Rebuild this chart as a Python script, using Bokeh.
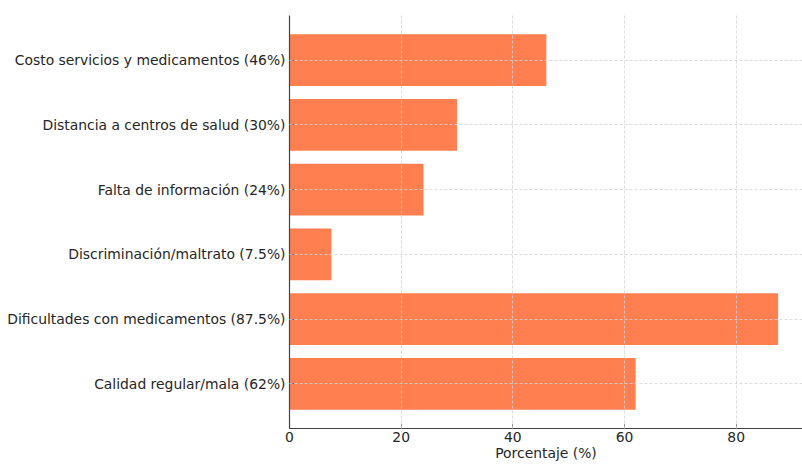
from bokeh.plotting import figure
from bokeh.models import Range1d, FixedTicker
from bokeh.embed import file_html
from bokeh.resources import INLINE

categories = [
    "Calidad regular/mala (62%)",
    "Dificultades con medicamentos (87.5%)",
    "Discriminación/maltrato (7.5%)",
    "Falta de información (24%)",
    "Distancia a centros de salud (30%)",
    "Costo servicios y medicamentos (46%)",
]
values = [62, 87.5, 7.5, 24, 30, 46]
x_ticks = [0, 20, 40, 60, 80]

positions = list(range(len(categories)))

p = figure(width=802, height=464, output_backend="svg", toolbar_location=None,
           x_range=Range1d(0, 91.875), y_range=Range1d(-0.69, len(categories) - 1 + 0.69),
           min_border_left=289, min_border_right=0, min_border_top=15, min_border_bottom=36)
p.outline_line_color = None
p.background_fill_color = "white"
p.border_fill_color = "white"

p.hbar(y=positions, right=values, left=0, height=0.8, fill_color="#FF7F50", line_color=None)

font = "DejaVu Sans"
for ax in (p.xaxis, p.yaxis):
    ax.axis_line_color = "#444444"
    ax.axis_line_width = 1.2
    ax.major_tick_out = 0
    ax.major_tick_in = 4
    ax.major_tick_line_color = "#444444"
    ax.minor_tick_line_color = None
    ax.major_label_text_font = font
    ax.major_label_text_font_size = "13.9px"
    ax.major_label_text_color = "#262626"

p.xaxis.ticker = FixedTicker(ticks=x_ticks)
p.xaxis.major_label_standoff = 3
p.xaxis.axis_label = "Porcentaje (%)"
p.xaxis.axis_label_text_font = font
p.xaxis.axis_label_text_font_size = "13.9px"
p.xaxis.axis_label_text_font_style = "normal"
p.xaxis.axis_label_text_color = "#262626"
p.xaxis.axis_label_standoff = 0

p.yaxis.ticker = FixedTicker(ticks=positions)
p.yaxis.major_label_overrides = {i: c for i, c in enumerate(categories)}
p.yaxis.major_label_standoff = 4

for g in (p.xgrid, p.ygrid):
    g.grid_line_color = "#d4d4d4"
    g.grid_line_dash = "3 2"
    g.grid_line_width = 0.8
    g.level = "overlay"
p.xgrid.ticker = FixedTicker(ticks=x_ticks[1:])
p.ygrid.ticker = FixedTicker(ticks=positions)

open("out.html", "w").write(file_html(p, INLINE))
